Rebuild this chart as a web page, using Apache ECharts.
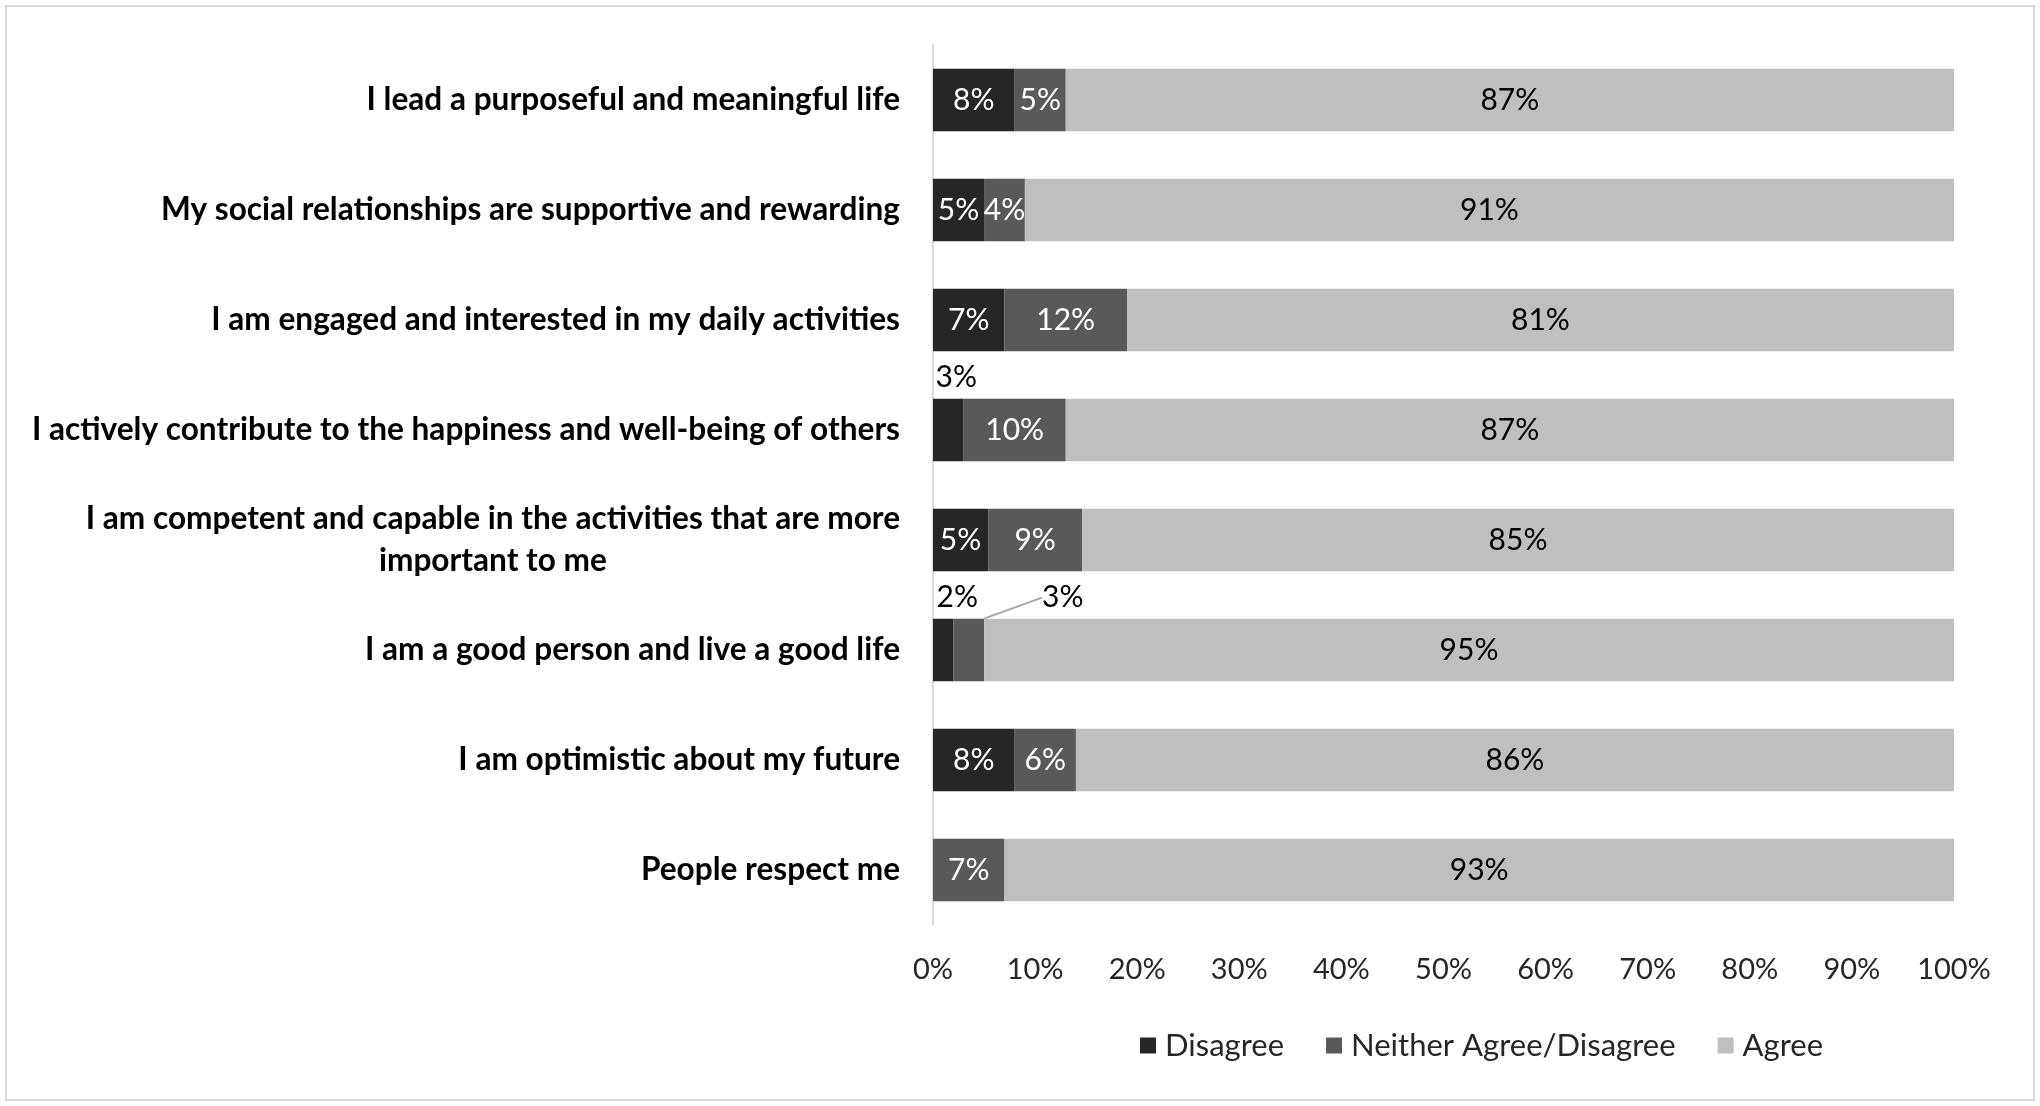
<!DOCTYPE html>
<html>
<head>
<meta charset="utf-8">
<script src="https://cdn.jsdelivr.net/npm/echarts@6/dist/echarts.min.js"></script>
<style>
html,body{margin:0;padding:0;background:#fff;}
#wrap{position:relative;width:2040px;height:1106px;}
#chart{position:absolute;left:0;top:0;width:2040px;height:1106px;}
#frame{position:absolute;left:5px;top:5px;width:2026px;height:1092px;border:2px solid #d9d9d9;pointer-events:none;}
</style>
</head>
<body>
<div id="wrap"><div id="chart"></div><div id="frame"></div></div>
<script>
const categories = [
  "I lead a purposeful and meaningful life",
  "My social relationships are supportive and rewarding",
  "I am engaged and interested in my daily activities",
  "I actively contribute to the happiness and well-being of others",
  "I am competent and capable in the activities that are more\nimportant to me",
  "I am a good person and live a good life",
  "I am optimistic about my future",
  "People respect me"
];
const seriesNames = ["Disagree", "Neither Agree/Disagree", "Agree"];
const disagree = [8, 5, 7, 3, 5.4, 2, 8, 0];
const neither  = [5, 4, 12, 10, 9.2, 3, 6, 7];
const agree    = [87, 91, 81, 87, 85.4, 95, 86, 93];
const xTicks = [0, 10, 20, 30, 40, 50, 60, 70, 80, 90, 100];

const colors = ["#262626", "#595959", "#bfbfbf"];
const FONT = "Lato";
const fmt = p => (p.value > 0 ? Math.round(p.value) + "%" : "");

function buildData(arr, overrides) {
  return arr.map((v, i) => overrides[i] ? Object.assign({ value: v }, overrides[i]) : v);
}
const aboveLabel3 = { label: { position: "top", color: "#000", offset: [8, 0], distance: 6 } };
const aboveLabel2 = { label: { position: "top", color: "#000", offset: [14, 0], distance: 6 } };

const chart = echarts.init(document.getElementById("chart"));
chart.setOption({
  animation: false,
  grid: { left: 933, right: 86, top: 45, bottom: 181 },
  legend: {
    data: seriesNames,
    left: 1135, top: 1025,
    icon: "rect", itemWidth: 16, itemHeight: 16, itemGap: 42,
    textStyle: { fontFamily: FONT, fontSize: 31, color: "#262626", padding: [0, 0, 0, 4] }
  },
  xAxis: {
    type: "value", min: xTicks[0], max: xTicks[xTicks.length - 1], interval: 10,
    axisLine: { show: false }, axisTick: { show: false }, splitLine: { show: false },
    axisLabel: { formatter: "{value}%", fontFamily: FONT, fontSize: 29, color: "#262626", margin: 30 }
  },
  yAxis: {
    type: "category", data: categories, inverse: true,
    axisLine: { show: true, lineStyle: { color: "#d9d9d9", width: 2 } },
    axisTick: { show: false },
    axisLabel: {
      margin: 33, fontFamily: FONT, fontWeight: "bold", fontSize: 31.6, color: "#000",
      lineHeight: 42,
      formatter: v => v.split("\n").map(l => "{c|" + l + "}").join("\n"),
      rich: { c: { align: "center", fontFamily: FONT, fontWeight: "bold", fontSize: 31.6, color: "#000", lineHeight: 42 } }
    }
  },
  series: [
    {
      name: seriesNames[0], type: "bar", stack: "t", barWidth: "57%",
      itemStyle: { color: colors[0] },
      label: { show: true, position: "inside", color: "#fff", fontFamily: FONT, fontSize: 30, formatter: fmt },
      data: buildData(disagree, { 3: aboveLabel3, 5: aboveLabel2 })
    },
    {
      name: seriesNames[1], type: "bar", stack: "t", barWidth: "57%",
      itemStyle: { color: colors[1] },
      label: { show: true, position: "inside", color: "#fff", fontFamily: FONT, fontSize: 30, formatter: fmt },
      labelLayout: p => (p.dataIndex === 5 ? { dx: 94 } : {}),
      data: buildData(neither, {
        5: {
          label: { position: "top", color: "#000", distance: 6 },
          labelLine: { show: true, lineStyle: { color: "#a6a6a6", width: 2 } }
        }
      })
    },
    {
      name: seriesNames[2], type: "bar", stack: "t", barWidth: "57%",
      itemStyle: { color: colors[2] },
      label: { show: true, position: "inside", color: "#000", fontFamily: FONT, fontSize: 30, formatter: fmt },
      data: agree
    }
  ]
});
</script>
</body>
</html>
